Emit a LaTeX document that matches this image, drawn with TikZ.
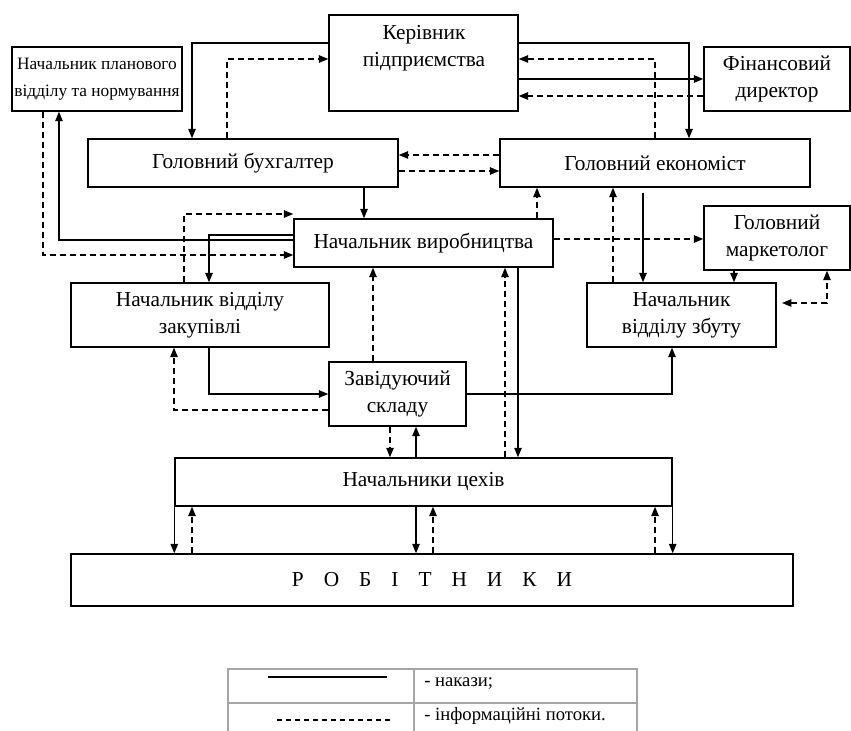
\documentclass[tikz,border=0pt]{standalone}
\usepackage{fontspec}
\setmainfont{Liberation Serif}
\usetikzlibrary{arrows.meta}
\newcommand\pbox[6]{\node[box, minimum width={(#4-#2)*0.75pt}, minimum height={(#5-#3)*0.75pt}] (#1) at ({(#2+#4)/2},{(#3+#5)/2}) {#6};}
\newcommand\rs{\hspace{15pt}}
\begin{document}
\begin{tikzpicture}[x=0.75pt,y=-0.75pt,
  box/.style={draw, line width=1.05pt, inner sep=0pt, align=center, font=\fontsize{16}{20}\selectfont},
  txt/.style={inner sep=0pt, align=center, font=\fontsize{16}{20}\selectfont},
  ord/.style={line width=1.05pt, -{Triangle[length=7pt,width=5.5pt]}},
  inf/.style={ord, dash pattern=on 4.5pt off 3pt},
  grid/.style={draw=black!35, line width=0.8pt},
  legtxt/.style={inner sep=0pt, anchor=west, font=\fontsize{14}{16}\selectfont}]
\useasboundingbox (0,0) rectangle (851,731);
% boxes
\pbox{plan}{12}{47}{182}{111}{\fontsize{13}{19.5}\selectfont Начальник планового\\ \fontsize{13}{19.5}\selectfont відділу та нормування}
\pbox{ker}{329}{15}{518}{111}{}
\node[txt] (kert) at (424,48) {Керівник\\підприємства};
\pbox{fin}{704}{47}{850}{111}{Фінансовий\\директор}
\pbox{buh}{88}{139}{398}{187}{Головний бухгалтер}
\pbox{eco}{500}{139}{810}{187}{Головний економіст}
\pbox{vyr}{294}{219}{553}{267}{Начальник виробництва}
\pbox{mark}{704}{206}{850}{270}{Головний\\маркетолог}
\pbox{zak}{71}{283}{329}{347}{Начальник відділу\\закупівлі}
\pbox{zbut}{587}{283}{776}{347}{Начальник\\відділу збуту}
\pbox{sklad}{329}{362}{466}{426}{Завідуючий\\складу}
\pbox{cekh}{175}{458}{672}{506}{Начальники цехів}
\pbox{rob}{71}{554}{793}{606}{Р\rs О\rs Б\rs І\rs Т\rs Н\rs И\rs К\rs И}
% connectors
\draw[ord] (ker.west |- 0,43) -| (buh.north -| 192,0);
\draw[inf] (buh.north -| 227,0) |- (ker.west |- 0,59);
\draw[ord] (ker.east |- 0,43) -| (eco.north -| 689,0);
\draw[inf] (eco.north -| 655,0) |- (ker.east |- 0,59);
\draw[ord] (ker.east |- 0,79) -- (fin.west |- 0,79);
\draw[inf] (fin.west |- 0,96) -- (ker.east |- 0,96);
\draw[inf] (eco.west |- 0,155) -- (buh.east |- 0,155);
\draw[inf] (buh.east |- 0,171) -- (eco.west |- 0,171);
\draw[ord] (buh.south -| 364,0) -- (vyr.north -| 364,0);
\draw[ord] (vyr.west |- 0,240) -| (plan.south -| 59,0);
\draw[inf] (plan.south -| 43,0) |- (vyr.west |- 0,255);
\draw[inf] (zak.north -| 184,0) |- (vyr.west |- 0,214);
\draw[ord] (vyr.west |- 0,235) -| (zak.north -| 209,0);
\draw[inf] (sklad.west |- 0,410) -| (zak.south -| 174,0);
\draw[ord] (zak.south -| 209,0) |- (sklad.west |- 0,394);
\draw[inf] (sklad.north -| 373,0) -- (vyr.south -| 373,0);
\draw[inf] (sklad.south -| 390,0) -- (cekh.north -| 390,0);
\draw[ord] (cekh.north -| 416,0) -- (sklad.south -| 416,0);
\draw[ord] (sklad.east |- 0,394) -| (zbut.south -| 672,0);
\draw[inf] (cekh.north -| 505,0) -- (vyr.south -| 505,0);
\draw[ord] (vyr.south -| 518,0) -- (cekh.north -| 518,0);
\draw[ord] (cekh.south west) -- (rob.north -| cekh.south west);
\draw[inf] (rob.north -| 192,0) -- (cekh.south -| 192,0);
\draw[ord] (cekh.south -| 416,0) -- (rob.north -| 416,0);
\draw[inf] (rob.north -| 433,0) -- (cekh.south -| 433,0);
\draw[inf] (rob.north -| 655,0) -- (cekh.south -| 655,0);
\draw[ord] (cekh.south east) -- (rob.north -| cekh.south east);
\draw[inf] (vyr.east |- 0,239) -- (mark.west |- 0,239);
\draw[inf] (vyr.north -| 537,0) -- (eco.south -| 537,0);
\draw[inf] (zbut.north -| 613,0) -- (eco.south -| 613,0);
\draw[ord, shorten <=3.75pt] (eco.south -| 643,0) -- (zbut.north -| 643,0);
\draw[ord] (mark.south -| 734,0) -- (zbut.north -| 734,0);
\draw[inf, {Triangle[length=7pt,width=5.5pt]}-{Triangle[length=7pt,width=5.5pt]}, shorten <=4pt] (zbut.east |- 0,303) -| (mark.south -| 827,0);
% legend
\draw[grid] (228,731) -- (228,669) -- (637,669) -- (637,731);
\draw[grid] (228,703) -- (637,703);
\draw[grid] (414,669) -- (414,731);
\coordinate (s1) at (268,677);
\coordinate (s2) at (387,677);
\coordinate (d1) at (277,720);
\coordinate (d2) at (393,720);
\draw[line width=1.2pt] (s1) -- (s2);
\draw[line width=0.8pt, dash pattern=on 3.75pt off 3pt] (d1) -- (d2);
\node[legtxt] (leg1) at (424,684) {- накази;};
\node[legtxt] (leg2) at (424,716) {- інформаційні потоки.};
\end{tikzpicture}
\end{document}
